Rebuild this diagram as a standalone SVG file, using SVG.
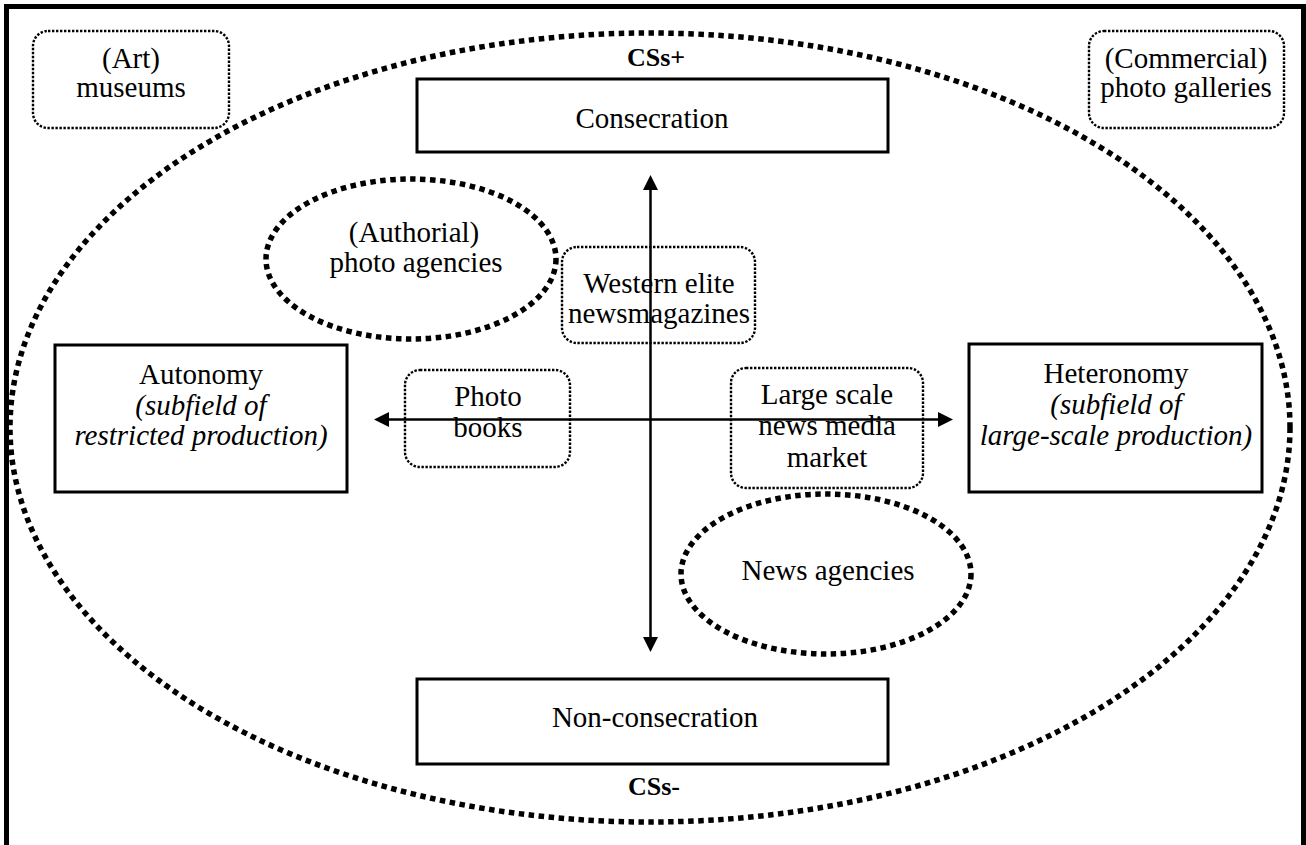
<svg xmlns="http://www.w3.org/2000/svg" width="1306" height="845" viewBox="0 0 1306 845">
<style>
text{font-family:"Liberation Serif","Times New Roman",serif;font-size:29px;fill:#000;text-anchor:middle}
.b{font-weight:bold;font-size:26px}
.i{font-style:italic}
.solid{fill:#fff;stroke:#000;stroke-width:3}
.dotbox{fill:none;stroke:#000;stroke-width:2.4;stroke-dasharray:2.4 1.6}
.thick{fill:none;stroke:#000;stroke-width:5.5;stroke-dasharray:5.5 4.5}
.axis{stroke:#000;stroke-width:2.5;fill:none}
</style>
<defs>
<marker id="ah" viewBox="0 0 15 15" refX="1" refY="7.5" markerWidth="15" markerHeight="15" markerUnits="userSpaceOnUse" orient="auto-start-reverse">
<path d="M0,0 L15,7.5 L0,15 z" fill="#000"/>
</marker>
</defs>
<rect x="0" y="0" width="1306" height="845" fill="#fff"/>
<rect id="frame" x="6.5" y="6.5" width="1297" height="900" fill="none" stroke="#000" stroke-width="5"/>
<g id="field">
<ellipse cx="650" cy="427.5" rx="640" ry="394.5" class="thick"/>
<text class="b" x="656" y="66">CSs+</text>
<text class="b" x="654" y="795">CSs-</text>
</g>
<g id="art-museums">
<rect x="33" y="31" width="196" height="97" rx="15" class="dotbox"/>
<text x="131" y="68">(Art)</text>
<text x="131" y="97">museums</text>
</g>
<g id="commercial-galleries">
<rect x="1089" y="31" width="195" height="97" rx="15" class="dotbox"/>
<text x="1186" y="68">(Commercial)</text>
<text x="1186" y="97">photo galleries</text>
</g>
<g id="consecration">
<rect x="417" y="79" width="471" height="73" class="solid"/>
<text x="652" y="128">Consecration</text>
</g>
<g id="non-consecration">
<rect x="417" y="679" width="471" height="85" class="solid"/>
<text x="655" y="727">Non-consecration</text>
</g>
<g id="autonomy">
<rect x="55" y="345" width="292" height="147" class="solid"/>
<text x="201" y="384">Autonomy</text>
<text x="201" y="415" class="i">(subfield of</text>
<text x="201" y="445" class="i">restricted production)</text>
</g>
<g id="heteronomy">
<rect x="969" y="344" width="293" height="148" class="solid"/>
<text x="1116" y="383">Heteronomy</text>
<text x="1116" y="414" class="i">(subfield of</text>
<text x="1116" y="445" class="i">large-scale production)</text>
</g>
<g id="authorial-agencies">
<ellipse cx="411" cy="259" rx="145" ry="80" class="thick"/>
<text x="414" y="242">(Authorial)</text>
<text x="416" y="272">photo agencies</text>
</g>
<g id="news-agencies">
<ellipse cx="826" cy="574" rx="145" ry="80" class="thick"/>
<text x="828" y="580">News agencies</text>
</g>
<g id="western-elite">
<rect x="562" y="247" width="193" height="96" rx="15" class="dotbox"/>
<text x="659" y="293">Western elite</text>
<text x="659" y="323">newsmagazines</text>
</g>
<g id="photo-books">
<rect x="405" y="370" width="165" height="97" rx="15" class="dotbox"/>
<text x="488" y="406">Photo</text>
<text x="488" y="437">books</text>
</g>
<g id="large-scale">
<rect x="731" y="368" width="192" height="120" rx="15" class="dotbox"/>
<text x="827" y="404">Large scale</text>
<text x="827" y="435">news media</text>
<text x="827" y="467">market</text>
</g>
<g id="connectors">
<line x1="650.5" y1="189" x2="650.5" y2="638" class="axis" marker-start="url(#ah)" marker-end="url(#ah)"/>
<line x1="388" y1="419.5" x2="939" y2="419.5" class="axis" marker-start="url(#ah)" marker-end="url(#ah)"/>
</g>
</svg>
